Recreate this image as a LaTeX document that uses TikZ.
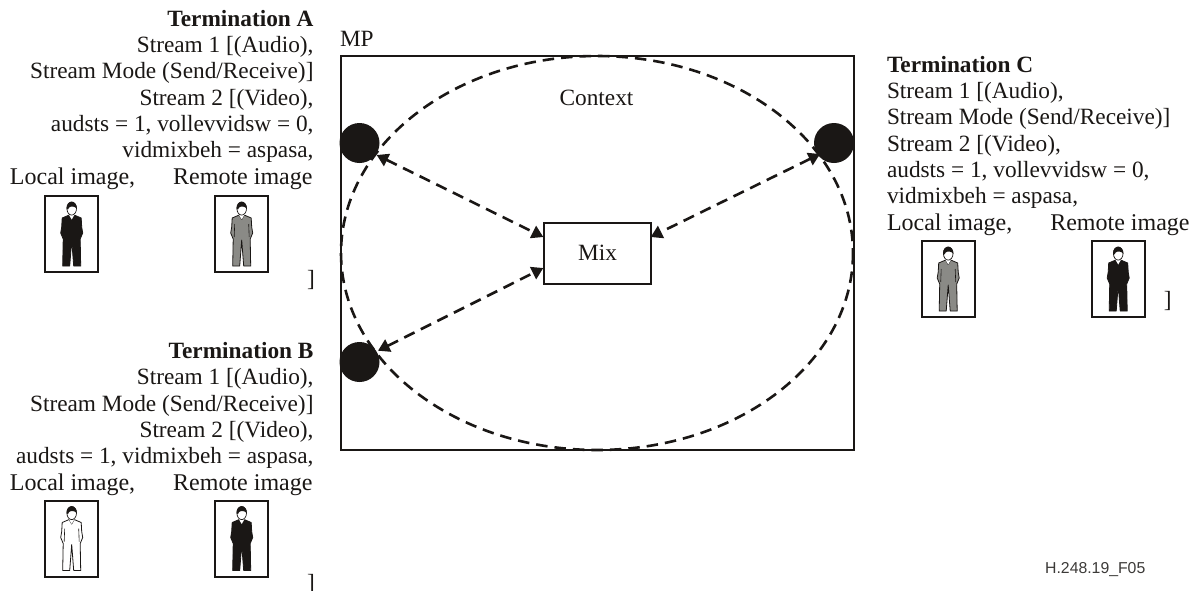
\documentclass[tikz,border=0pt]{standalone}
\usepackage{fontspec}
\setmainfont{Liberation Serif}
\newfontfamily\labsans{Liberation Sans}
\usetikzlibrary{arrows.meta}
\definecolor{ink}{HTML}{1A1715}
\definecolor{suit}{HTML}{8A8A86}
\newcommand{\imgline}[1]{{\fontsize{24}{26.3}\selectfont Local image,\hspace*{38pt}Remote image#1}}
\tikzset{
  txt/.style={inner sep=0pt,outer sep=0pt,text=ink,font=\fontsize{23.3}{26.3}\selectfont},
  blockr/.style={txt,align=right,anchor=base east},
  blockl/.style={txt,align=left,anchor=base west},
  imgbox/.style={draw=ink,line width=2pt,minimum width=53pt,minimum height=76pt,inner sep=0pt},
  dashline/.style={draw=ink,line width=2.6pt,dash pattern=on 11.5pt off 7pt},
  link/.style={dashline,{Triangle[length=11.5pt,width=13.3pt,fill=ink]}-{Triangle[length=11.5pt,width=13.3pt,fill=ink]}},
  port/.style={circle,fill=ink,minimum size=40pt,inner sep=0pt},
  pics/person/.style={code={
    \path[fill=#1,draw=ink,line width=.8pt,line join=round]
      (-2.5,-19)--(-9.5,-16)--(-10,-7)--(-11,-1)--(-8.5,5)--(-9,32)--(-2,32)--(0,6)--(2,32)--(9,32)--(8.5,5)--(11,-1)--(10,-7)--(9.5,-16)--(2.5,-19)--(0,-14.5)--cycle;
    \draw[ink,line width=.6pt] (-7,-10)--(-7.5,3) (7,-10)--(7.5,3);
    \fill[white] (-3.2,-20)--(3.2,-20)--(0,-14.5)--cycle;
    \draw[ink,line width=.7pt,fill=white] (0,-25.5) ellipse [x radius=4.8,y radius=6.6];
    \fill[ink] (-5.2,-25)..controls (-5.6,-34.5) and (5.6,-34.5)..(5.2,-25)..controls (3.5,-28) and (-1,-28)..(-2.5,-26.5)..controls (-3,-25) and (-4.2,-23.5)..(-5.2,-25)--cycle;
  }}
}
\begin{document}
\begin{tikzpicture}[x=1pt,y=-1pt]
\useasboundingbox[fill=white] (0,0) rectangle (1196,590);

% text blocks
\node[blockr] (tA) at (313.5,184) {\bfseries Termination A\\Stream 1 [(Audio),\\Stream Mode (Send/Receive)]\\Stream 2 [(Video),\\audsts = 1, vollevvidsw = 0,\\vidmixbeh = aspasa,\\\imgline{\hspace*{1pt}}};
\node[blockr] (tB) at (313.5,490) {\bfseries Termination B\\Stream 1 [(Audio),\\Stream Mode (Send/Receive)]\\Stream 2 [(Video),\\audsts = 1, vidmixbeh = aspasa,\\\imgline{\hspace*{1pt}}};
\node[blockl] (tC) at (887,230) {\bfseries Termination C\\Stream 1 [(Audio),\\Stream Mode (Send/Receive)]\\Stream 2 [(Video),\\audsts = 1, vollevvidsw = 0,\\vidmixbeh = aspasa,\\\imgline{}};

% image frames
\node[imgbox] (aL) at (71.7,234) {};
\node[imgbox] (aR) at (241.7,234) {};
\node[imgbox] (bL) at (71.7,538.5) {};
\node[imgbox] (bR) at (241.7,538.5) {};
\node[imgbox] (cL) at (948.2,279) {};
\node[imgbox] (cR) at (1118.2,279) {};
\pic at (aL) {person=ink};
\pic at (aR) {person=suit};
\pic at (bL) {person=white};
\pic at (bR) {person=ink};
\pic at (cL) {person=suit};
\pic at (cR) {person=ink};

\node[txt,anchor=base east] (brA) at (315,286.4) {]};
\node[txt,anchor=base east] (brB) at (315,590) {]};
\node[txt,anchor=base east] (brC) at (1171.5,307.7) {]};

% media processor
\node[txt,anchor=base west] (mp) at (340,46.7) {MP};
\draw[ink,line width=2pt] (340.5,56) rectangle (853.7,450);
\draw[dashline] (597,253) ellipse [x radius=256,y radius=197];
\node[txt,anchor=base] (ctx) at (596.5,105) {Context};
\node[port] (p1) at (359.5,143) {};
\node[port] (p2) at (359.5,362) {};
\node[port] (p3) at (834,143) {};
\node[draw=ink,fill=white,line width=2pt,minimum width=107pt,minimum height=61pt,inner sep=0pt,text=ink,font=\fontsize{23.3}{26.3}\selectfont] (mix) at (597.5,253) {Mix};

\coordinate (p1e) at (376.7,155);
\coordinate (p2e) at (378,350.7);
\coordinate (p3e) at (820,154);
\coordinate (m1) at (543.3,237);
\coordinate (m2) at (543.3,268);
\coordinate (m3) at (650.7,237);
\draw[link] (p1e) -- (m1);
\draw[link] (p2e) -- (m2);
\draw[link] (p3e) -- (m3);

\node[inner sep=0pt,anchor=base east,text=ink!85,font=\labsans\fontsize{15.8}{18}\selectfont] (fig) at (1145.5,573) {H.248.19\_F05};
\end{tikzpicture}
\end{document}
